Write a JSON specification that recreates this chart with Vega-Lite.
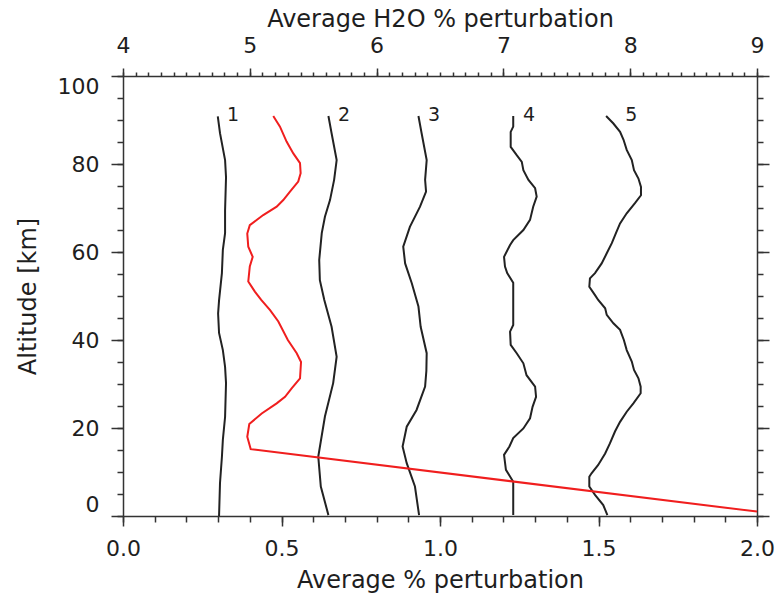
{
  "$schema": "https://vega.github.io/schema/vega-lite/v6.json",
  "width": 634,
  "height": 440,
  "autosize": {"type": "none"},
  "padding": {"left": 123, "top": 76, "right": 21, "bottom": 82},
  "background": "white",
  "config": {
    "view": {"stroke": null},
    "font": "DejaVu Sans",
    "axis": {
      "grid": false,
      "domainColor": "#333333",
      "domainWidth": 1.5,
      "tickColor": "#333333",
      "tickWidth": 1.5,
      "labelColor": "#1e1e1e",
      "titleColor": "#1e1e1e",
      "labelFont": "DejaVu Sans",
      "titleFont": "DejaVu Sans",
      "labelFontSize": 22,
      "titleFontSize": 24,
      "titleFontWeight": "normal"
    }
  },
  "datasets": {
    "profiles": [
      {"id": "1", "alt": 0, "x": 0.303}, {"id": "1", "alt": 7.5, "x": 0.306}, {"id": "1", "alt": 13.4, "x": 0.312}, {"id": "1", "alt": 17.3, "x": 0.315}, {"id": "1", "alt": 22.5, "x": 0.322}, {"id": "1", "alt": 30.2, "x": 0.325}, {"id": "1", "alt": 33.9, "x": 0.322}, {"id": "1", "alt": 37.7, "x": 0.315}, {"id": "1", "alt": 41.6, "x": 0.303}, {"id": "1", "alt": 46, "x": 0.3}, {"id": "1", "alt": 49, "x": 0.303}, {"id": "1", "alt": 55.2, "x": 0.312}, {"id": "1", "alt": 60.5, "x": 0.315}, {"id": "1", "alt": 64.3, "x": 0.322}, {"id": "1", "alt": 69.5, "x": 0.322}, {"id": "1", "alt": 77, "x": 0.325}, {"id": "1", "alt": 80.9, "x": 0.322}, {"id": "1", "alt": 87, "x": 0.306}, {"id": "1", "alt": 90.8, "x": 0.299},
      {"id": "2", "alt": 0.2, "x": 0.648}, {"id": "2", "alt": 6.7, "x": 0.624}, {"id": "2", "alt": 13.5, "x": 0.616}, {"id": "2", "alt": 22.6, "x": 0.637}, {"id": "2", "alt": 30.2, "x": 0.663}, {"id": "2", "alt": 36.2, "x": 0.674}, {"id": "2", "alt": 43, "x": 0.658}, {"id": "2", "alt": 49.1, "x": 0.635}, {"id": "2", "alt": 53.6, "x": 0.621}, {"id": "2", "alt": 58.2, "x": 0.619}, {"id": "2", "alt": 64.3, "x": 0.627}, {"id": "2", "alt": 68, "x": 0.637}, {"id": "2", "alt": 71.8, "x": 0.653}, {"id": "2", "alt": 76.4, "x": 0.666}, {"id": "2", "alt": 80.9, "x": 0.674}, {"id": "2", "alt": 87, "x": 0.658}, {"id": "2", "alt": 90.9, "x": 0.648},
      {"id": "3", "alt": 0.2, "x": 0.934}, {"id": "3", "alt": 6.7, "x": 0.921}, {"id": "3", "alt": 12, "x": 0.895}, {"id": "3", "alt": 15.8, "x": 0.882}, {"id": "3", "alt": 20.3, "x": 0.895}, {"id": "3", "alt": 24.1, "x": 0.926}, {"id": "3", "alt": 29.4, "x": 0.953}, {"id": "3", "alt": 33, "x": 0.957}, {"id": "3", "alt": 37, "x": 0.958}, {"id": "3", "alt": 43, "x": 0.939}, {"id": "3", "alt": 47.6, "x": 0.932}, {"id": "3", "alt": 52.9, "x": 0.911}, {"id": "3", "alt": 57.4, "x": 0.89}, {"id": "3", "alt": 61.2, "x": 0.884}, {"id": "3", "alt": 65.7, "x": 0.905}, {"id": "3", "alt": 70.3, "x": 0.937}, {"id": "3", "alt": 73.7, "x": 0.956}, {"id": "3", "alt": 76.4, "x": 0.953}, {"id": "3", "alt": 80.9, "x": 0.958}, {"id": "3", "alt": 87, "x": 0.942}, {"id": "3", "alt": 90.9, "x": 0.932},
      {"id": "4", "alt": 0.2, "x": 1.231}, {"id": "4", "alt": 7.8, "x": 1.231}, {"id": "4", "alt": 10.5, "x": 1.208}, {"id": "4", "alt": 13.9, "x": 1.202}, {"id": "4", "alt": 15.8, "x": 1.219}, {"id": "4", "alt": 17.7, "x": 1.231}, {"id": "4", "alt": 19.9, "x": 1.263}, {"id": "4", "alt": 22.2, "x": 1.284}, {"id": "4", "alt": 24.8, "x": 1.292}, {"id": "4", "alt": 27.1, "x": 1.303}, {"id": "4", "alt": 29.4, "x": 1.3}, {"id": "4", "alt": 32, "x": 1.273}, {"id": "4", "alt": 34.7, "x": 1.263}, {"id": "4", "alt": 37, "x": 1.242}, {"id": "4", "alt": 38.9, "x": 1.223}, {"id": "4", "alt": 41.9, "x": 1.221}, {"id": "4", "alt": 43.4, "x": 1.231}, {"id": "4", "alt": 53, "x": 1.231}, {"id": "4", "alt": 55.2, "x": 1.212}, {"id": "4", "alt": 56.7, "x": 1.205}, {"id": "4", "alt": 58.9, "x": 1.202}, {"id": "4", "alt": 61.6, "x": 1.221}, {"id": "4", "alt": 62.7, "x": 1.231}, {"id": "4", "alt": 65, "x": 1.263}, {"id": "4", "alt": 67.3, "x": 1.284}, {"id": "4", "alt": 70.3, "x": 1.294}, {"id": "4", "alt": 72.6, "x": 1.305}, {"id": "4", "alt": 74.5, "x": 1.3}, {"id": "4", "alt": 76.4, "x": 1.279}, {"id": "4", "alt": 78.6, "x": 1.263}, {"id": "4", "alt": 80.5, "x": 1.258}, {"id": "4", "alt": 82, "x": 1.242}, {"id": "4", "alt": 83.9, "x": 1.223}, {"id": "4", "alt": 87.3, "x": 1.223}, {"id": "4", "alt": 88.5, "x": 1.231}, {"id": "4", "alt": 90.9, "x": 1.231},
      {"id": "5", "alt": 0.2, "x": 1.528}, {"id": "5", "alt": 2.5, "x": 1.515}, {"id": "5", "alt": 4.8, "x": 1.489}, {"id": "5", "alt": 6.7, "x": 1.471}, {"id": "5", "alt": 8.9, "x": 1.471}, {"id": "5", "alt": 9.7, "x": 1.478}, {"id": "5", "alt": 11.6, "x": 1.499}, {"id": "5", "alt": 14.2, "x": 1.521}, {"id": "5", "alt": 16.5, "x": 1.536}, {"id": "5", "alt": 19.2, "x": 1.552}, {"id": "5", "alt": 21.4, "x": 1.568}, {"id": "5", "alt": 23.7, "x": 1.589}, {"id": "5", "alt": 25.6, "x": 1.61}, {"id": "5", "alt": 27.9, "x": 1.633}, {"id": "5", "alt": 29.4, "x": 1.633}, {"id": "5", "alt": 31.3, "x": 1.626}, {"id": "5", "alt": 33.2, "x": 1.612}, {"id": "5", "alt": 35.1, "x": 1.605}, {"id": "5", "alt": 37.7, "x": 1.589}, {"id": "5", "alt": 40, "x": 1.58}, {"id": "5", "alt": 42.3, "x": 1.568}, {"id": "5", "alt": 43.8, "x": 1.547}, {"id": "5", "alt": 45.7, "x": 1.526}, {"id": "5", "alt": 47.2, "x": 1.521}, {"id": "5", "alt": 49.1, "x": 1.499}, {"id": "5", "alt": 50.2, "x": 1.489}, {"id": "5", "alt": 52.1, "x": 1.471}, {"id": "5", "alt": 54, "x": 1.473}, {"id": "5", "alt": 55.2, "x": 1.489}, {"id": "5", "alt": 57.4, "x": 1.51}, {"id": "5", "alt": 59.7, "x": 1.526}, {"id": "5", "alt": 62, "x": 1.542}, {"id": "5", "alt": 64.3, "x": 1.555}, {"id": "5", "alt": 66.5, "x": 1.568}, {"id": "5", "alt": 68.8, "x": 1.589}, {"id": "5", "alt": 71.1, "x": 1.615}, {"id": "5", "alt": 72.9, "x": 1.634}, {"id": "5", "alt": 74.8, "x": 1.634}, {"id": "5", "alt": 76.7, "x": 1.626}, {"id": "5", "alt": 78.6, "x": 1.612}, {"id": "5", "alt": 80.9, "x": 1.605}, {"id": "5", "alt": 83.2, "x": 1.589}, {"id": "5", "alt": 85.5, "x": 1.579}, {"id": "5", "alt": 87.3, "x": 1.568}, {"id": "5", "alt": 89.2, "x": 1.547}, {"id": "5", "alt": 90.9, "x": 1.524}
    ],
    "h2o": [
      {"alt": 1, "v": 9.0}, {"alt": 15.2, "v": 5.007}, {"alt": 18, "v": 4.98}, {"alt": 20.9, "v": 4.996}, {"alt": 23.3, "v": 5.094}, {"alt": 25.6, "v": 5.212}, {"alt": 27.1, "v": 5.278}, {"alt": 29, "v": 5.33}, {"alt": 31.3, "v": 5.396}, {"alt": 35, "v": 5.404}, {"alt": 37, "v": 5.37}, {"alt": 40, "v": 5.3}, {"alt": 44.2, "v": 5.225}, {"alt": 46.8, "v": 5.16}, {"alt": 49.1, "v": 5.09}, {"alt": 51, "v": 5.04}, {"alt": 53.3, "v": 4.988}, {"alt": 56.7, "v": 5.0}, {"alt": 58.9, "v": 5.023}, {"alt": 61.2, "v": 4.988}, {"alt": 64.2, "v": 4.98}, {"alt": 66.1, "v": 5.0}, {"alt": 68.4, "v": 5.106}, {"alt": 70.3, "v": 5.212}, {"alt": 71.8, "v": 5.264}, {"alt": 73.7, "v": 5.317}, {"alt": 76, "v": 5.382}, {"alt": 77.9, "v": 5.401}, {"alt": 80.2, "v": 5.396}, {"alt": 82.4, "v": 5.343}, {"alt": 85.1, "v": 5.29}, {"alt": 88.5, "v": 5.238}, {"alt": 90.9, "v": 5.185}
    ],
    "labels": [
      {"label": "1", "x": 0.328, "alt": 91.2},
      {"label": "2", "x": 0.678, "alt": 91.2},
      {"label": "3", "x": 0.962, "alt": 91.2},
      {"label": "4", "x": 1.262, "alt": 91.2},
      {"label": "5", "x": 1.584, "alt": 91.2}
    ]
  },
  "layer": [
    {
      "data": {"name": "profiles"},
      "mark": {"type": "line", "color": "#222222", "strokeWidth": 2},
      "encoding": {
        "x": {"field": "x", "type": "quantitative",
          "scale": {"domain": [0, 2], "nice": false, "zero": false},
          "axis": {"orient": "bottom", "values": [0, 0.5, 1, 1.5, 2], "format": ".1f", "tickSize": 10, "labelPadding": 12, "labelFlush": false,
            "title": "Average % perturbation", "titleY": 71, "titleBaseline": "alphabetic"}},
        "y": {"field": "alt", "type": "quantitative",
          "scale": {"domain": [0, 100], "nice": false, "zero": false},
          "axis": {"orient": "left", "values": [0, 20, 40, 60, 80, 100], "tickSize": 12, "labelPadding": 12, "labelFlush": true,
            "title": "Altitude [km]", "titleX": -95, "titleY": 220, "titleAngle": -90, "titleAlign": "center", "titleBaseline": "middle"}},
        "detail": {"field": "id", "type": "nominal"},
        "order": {"field": "alt", "type": "quantitative"}
      }
    },
    {
      "data": {"name": "labels"},
      "mark": {"type": "text", "align": "left", "baseline": "middle", "fontSize": 19, "color": "#1e1e1e", "font": "DejaVu Sans"},
      "encoding": {
        "x": {"field": "x", "type": "quantitative",
          "scale": {"domain": [0, 2], "nice": false, "zero": false},
          "axis": {"orient": "bottom", "values": [0, 0.1, 0.2, 0.3, 0.4, 0.5, 0.6, 0.7, 0.8, 0.9, 1, 1.1, 1.2, 1.3, 1.4, 1.5, 1.6, 1.7, 1.8, 1.9, 2], "tickSize": 6, "labels": false, "domain": false, "title": null}},
        "y": {"field": "alt", "type": "quantitative",
          "scale": {"domain": [0, 100], "nice": false, "zero": false},
          "axis": {"orient": "left", "values": [0, 5, 10, 15, 20, 25, 30, 35, 40, 45, 50, 55, 60, 65, 70, 75, 80, 85, 90, 95, 100], "tickSize": 6, "labels": false, "domain": false, "title": null}},
        "text": {"field": "label", "type": "nominal"}
      }
    },
    {
      "data": {"name": "h2o"},
      "mark": {"type": "line", "color": "#f01e1e", "strokeWidth": 2},
      "encoding": {
        "x": {"field": "v", "type": "quantitative",
          "scale": {"domain": [4, 9], "nice": false, "zero": false},
          "axis": {"orient": "top", "values": [4, 5, 6, 7, 8, 9], "format": "d", "tickSize": 8, "labelPadding": 11, "labelFlush": false,
            "title": "Average H2O % perturbation", "titleY": -50, "titleBaseline": "alphabetic"}},
        "y": {"field": "alt", "type": "quantitative",
          "scale": {"domain": [0, 100], "nice": false, "zero": false},
          "axis": {"orient": "right", "values": [0, 20, 40, 60, 80, 100], "tickSize": 12, "labels": false, "title": null}},
        "order": {"field": "alt", "type": "quantitative"}
      }
    },
    {
      "data": {"name": "h2o"},
      "mark": {"type": "point", "opacity": 0},
      "encoding": {
        "x": {"field": "v", "type": "quantitative",
          "scale": {"domain": [4, 9], "nice": false, "zero": false},
          "axis": {"orient": "top", "values": [4, 4.1, 4.2, 4.3, 4.4, 4.5, 4.6, 4.7, 4.8, 4.9, 5, 5.1, 5.2, 5.3, 5.4, 5.5, 5.6, 5.7, 5.8, 5.9, 6, 6.1, 6.2, 6.3, 6.4, 6.5, 6.6, 6.7, 6.8, 6.9, 7, 7.1, 7.2, 7.3, 7.4, 7.5, 7.6, 7.7, 7.8, 7.9, 8, 8.1, 8.2, 8.3, 8.4, 8.5, 8.6, 8.7, 8.8, 8.9, 9], "tickSize": 4, "labels": false, "domain": false, "title": null}},
        "y": {"field": "alt", "type": "quantitative",
          "scale": {"domain": [0, 100], "nice": false, "zero": false},
          "axis": {"orient": "right", "values": [0, 5, 10, 15, 20, 25, 30, 35, 40, 45, 50, 55, 60, 65, 70, 75, 80, 85, 90, 95, 100], "tickSize": 6, "labels": false, "domain": false, "title": null}}
      }
    }
  ],
  "resolve": {
    "scale": {"x": "independent"},
    "axis": {"x": "independent", "y": "independent"}
  }
}
